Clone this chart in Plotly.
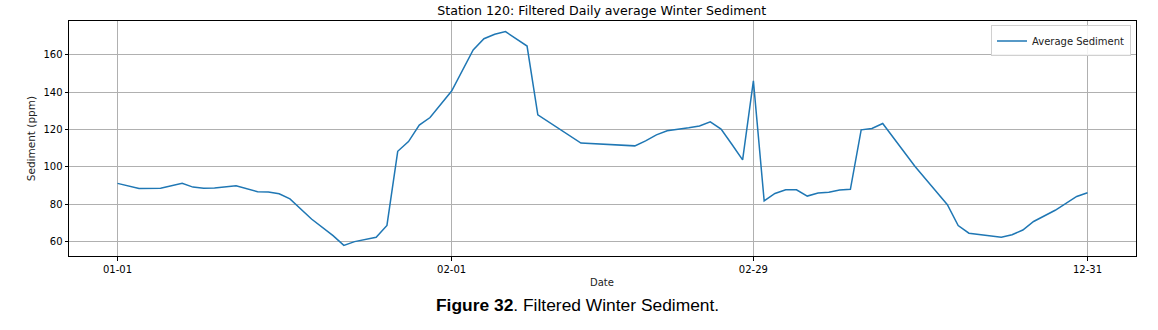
import plotly.graph_objects as go

# ---- data ----
dates = ["01-01", "01-03", "01-05", "01-07", "01-08", "01-09", "01-10", "01-12",
         "01-14", "01-15", "01-16", "01-17", "01-19", "01-21", "01-22", "01-23",
         "01-25", "01-26", "01-27", "01-28", "01-29", "01-30", "02-01", "02-03",
         "02-04", "02-05", "02-06", "02-08", "02-09", "02-13", "02-18", "02-19",
         "02-20", "02-21", "02-23", "02-24", "02-25", "02-26", "02-27", "02-28",
         "02-29", "12-01", "12-02", "12-03", "12-04", "12-05", "12-06", "12-07",
         "12-08", "12-09", "12-10", "12-11", "12-12", "12-15", "12-17", "12-18",
         "12-19", "12-20", "12-23", "12-24", "12-25", "12-26", "12-28", "12-29",
         "12-30", "12-31"]
sediment = [91.2, 88.5, 88.6, 91.2, 89.2, 88.6, 88.7, 89.9,
            86.7, 86.6, 85.6, 82.9, 72.1, 63.2, 58.0, 60.0,
            62.3, 68.7, 108.4, 113.6, 122.4, 126.5, 140.7, 162.7,
            168.7, 171.1, 172.5, 164.8, 127.9, 112.8, 111.3, 114.0,
            117.2, 119.4, 121.0, 122.0, 124.2, 120.3, 112.2, 103.8,
            146.1, 81.8, 85.8, 87.8, 87.8, 84.4, 86.0, 86.4,
            87.6, 88.0, 119.9, 120.6, 123.3, 100.3, 86.6, 79.8,
            68.6, 64.5, 62.3, 63.7, 66.2, 70.8, 76.8, 80.3,
            84.2, 86.2]
tick_labels = ["01-01", "02-01", "02-29", "12-31"]
y_ticks = [60, 80, 100, 120, 140, 160]

# winter season ordering: Jan, Feb (leap), then Dec
month_offset = {1: 0, 2: 31, 12: 60}


def season_pos(label):
    m, d = label.split("-")
    return month_offset[int(m)] + int(d) - 1


x_pos = [season_pos(d) for d in dates]
tick_pos = [season_pos(t) for t in tick_labels]

FONT = "DejaVu Sans"
W, H = 1158, 330
L, R, T, B = 69, 22, 20.5, 74
pw, ph = W - L - R, H - T - B


def px_x(x):  # page pixel x -> paper fraction
    return (x - L) / pw


def px_y(y):  # page pixel y -> paper fraction
    return (H - B - y) / ph


fig = go.Figure()
fig.add_trace(go.Scatter(
    x=x_pos, y=sediment, mode="lines", name="Average Sediment",
    line=dict(color="#1f77b4", width=1.5),
))

fig.update_layout(
    width=W, height=H,
    margin=dict(l=L, r=R, t=T, b=B, autoexpand=False),
    paper_bgcolor="white", plot_bgcolor="white",
    font=dict(family=FONT, size=10, color="black"),
    title=dict(text="Station 120: Filtered Daily average Winter Sediment",
               x=px_x(601.7), xref="paper", xanchor="center",
               y=1 - 10.5 / H, yref="container", yanchor="middle",
               font=dict(family=FONT, size=12.6, color="black")),
    showlegend=True,
    legend=dict(x=px_x(1131), xanchor="right", y=px_y(25), yanchor="top",
                bgcolor="rgba(255,255,255,0.85)", bordercolor="#d0d0d0", borderwidth=1,
                font=dict(family=FONT, size=10, color="#222"), itemwidth=30,
                tracegroupgap=0),
)

fig.update_xaxes(
    range=[-4.5, 94.5], tickmode="array", tickvals=tick_pos, ticktext=tick_labels,
    showgrid=True, gridcolor="#b0b0b0", gridwidth=0.8,
    showline=True, linecolor="black", linewidth=1, mirror=True,
    ticks="outside", ticklen=3.5, tickcolor="black", tickwidth=0.8,
    zeroline=False, tickfont=dict(family=FONT, size=10, color="black"),
)
fig.update_yaxes(
    range=[52.3, 178.2], tickmode="array", tickvals=y_ticks,
    showgrid=True, gridcolor="#b0b0b0", gridwidth=0.8,
    showline=True, linecolor="black", linewidth=1, mirror=True,
    ticks="outside", ticklen=3.5, tickcolor="black", tickwidth=0.8,
    zeroline=False, tickfont=dict(family=FONT, size=10, color="black"),
)

fig.add_annotation(text="Date", xref="paper", yref="paper",
                   x=px_x(601.7), y=px_y(283),
                   xanchor="center", yanchor="middle", showarrow=False,
                   font=dict(family=FONT, size=10, color="#222"))
fig.add_annotation(text="Sediment (ppm)", xref="paper", yref="paper",
                   x=px_x(30.7), y=0.5, textangle=-90,
                   xanchor="center", yanchor="middle", showarrow=False,
                   font=dict(family=FONT, size=10.5, color="#222"))
fig.add_annotation(text="<b>Figure 32</b>. Filtered Winter Sediment.",
                   xref="paper", yref="paper",
                   x=px_x(577), y=px_y(305),
                   xanchor="center", yanchor="middle", showarrow=False,
                   font=dict(family="Liberation Sans, Arial", size=17.4, color="black"))

fig.write_html("out.html",
               config={"displayModeBar": False},
               post_script="document.body.style.margin='0';document.body.style.overflow='hidden';")
